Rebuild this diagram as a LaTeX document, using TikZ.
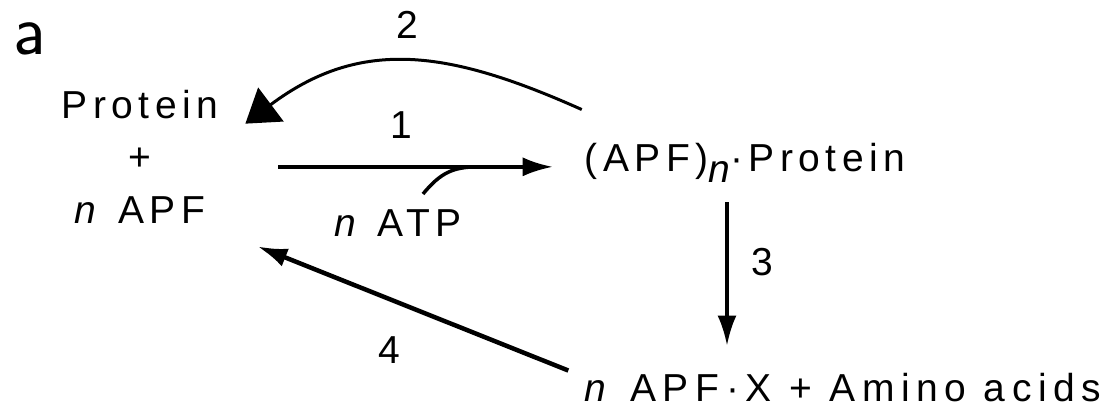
\documentclass[tikz,border=0pt]{standalone}
\usepackage{fontspec}
\usepackage{tikz}
\usetikzlibrary{arrows.meta,positioning}
\newfontfamily\apffont{Liberation Sans}[LetterSpace=14]

\begin{document}
\begin{tikzpicture}[x=1pt, y=-1pt,
    every node/.style={font=\apffont\fontsize{39}{52.5}\selectfont, inner sep=3pt},
    rxn/.style={line width=3.5pt, -{Latex[length=30pt,width=19pt]}},
    back/.style={line width=3pt, -{Triangle[length=32pt,width=42pt]}}]
    \useasboundingbox (0,0) rectangle (1112,406);
    \node[font=\sffamily\fontsize{72}{76}\selectfont, inner sep=0pt] (panel) at (30,39) {a};
    \node[align=center] (left) at (140,156.5) {Protein\\+\\\textit{n} APF};
    \node[anchor=base] (cplx) at (745,172) {(APF)\raisebox{-11pt}{\itshape n}·Protein};
    \node[anchor=base] (atp) at (398,237) {\textit{n} ATP};
    \node[anchor=base, inner sep=1pt] (prod) at (843,401) {\addfontfeatures{LetterSpace=17}\textit{n} APF·X + Amino acids};
    % 1 and the ATP hook
    \draw[rxn, shorten <=57pt, shorten >=29pt] ([shift={(0,-3)}]left.east |- cplx.mid west)
        -- coordinate[pos=0.7] (atpjoin) ([shift={(0,-3)}]cplx.mid west) node[midway, above=24pt] {1};
    \draw[line width=3.5pt] ([shift={(25,-13)}]atp.north) .. controls +(18,-22) and +(-20,1) .. (atpjoin);
    % 2
    \draw[back] ([shift={(0,-31)}]cplx.north west) .. controls +(-132,-59) and +(116,-87)
        .. ([shift={(24,37)}]left.north east) node[pos=0.5, above=19pt] {2};
    % 3
    \draw[rxn, shorten <=16pt, shorten >=26pt] ([shift={(-18,0)}]cplx.south)
        -- ([shift={(-18,0)}]cplx.south |- prod.north) node[pos=0.41, right=20pt] {3};
    % 4
    \draw[rxn, line width=4.5pt] ([shift={(-15,-1)}]prod.north west)
        -- ([shift={(36,20)}]left.south east) node[pos=0.575, below=32pt] {4};
\end{tikzpicture}
\end{document}
